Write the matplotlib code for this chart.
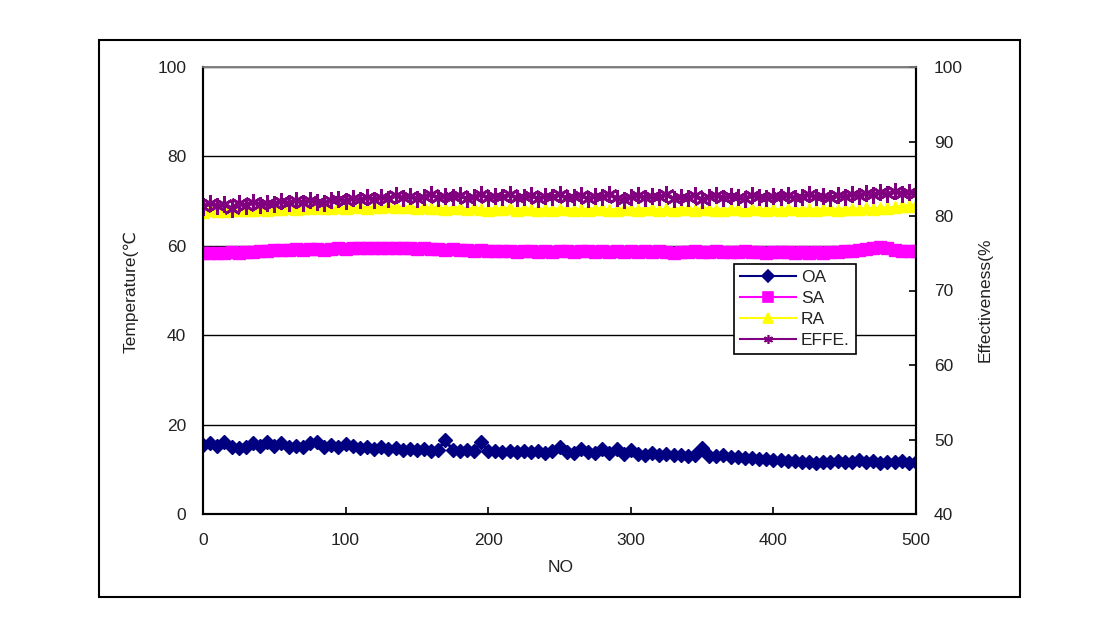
import numpy as np
import matplotlib
matplotlib.use("Agg")
import matplotlib.pyplot as plt
from matplotlib.patches import Rectangle

plt.rcParams['font.family'] = ['Liberation Sans', 'DejaVu Sans', 'Noto Sans CJK KR']

# sample number (every 5th record)
no = np.arange(0, 505, 5)

oa = [15.4, 15.9, 15.2, 16.0, 15.1, 14.8, 15.0, 15.8, 15.3, 16.1, 15.2,
      15.9, 14.9, 15.3, 15.0, 15.8, 16.0, 14.9, 15.4, 15.1, 15.7,
      15.2, 14.8, 15.0, 14.6, 14.9, 14.5, 14.7, 14.4, 14.6, 14.3,
      14.5, 14.2, 14.4, 16.6, 14.3, 14.1, 14.4, 14.0, 16.1, 14.2,
      14.0, 13.8, 14.1, 13.9, 14.2, 13.8, 14.0, 13.7, 14.1, 15.1,
      13.9, 13.7, 14.6, 13.8, 13.6, 14.5, 13.7, 14.6, 13.5, 14.4,
      13.5, 13.3, 13.6, 13.2, 13.4, 13.1, 13.3, 13.0, 13.2, 14.7,
      13.0, 12.9, 13.1, 12.7, 12.8, 12.5, 12.6, 12.3, 12.4, 12.1,
      12.0, 11.8, 11.9, 11.6, 11.7, 11.5, 11.7, 11.6, 11.8, 11.6,
      11.7, 12.0, 11.6, 11.8, 11.5, 11.7, 11.6, 11.8, 11.5, 11.7]

sa = [58.4, 58.3, 58.5, 58.4, 58.6, 58.5, 58.7, 58.6, 58.8, 58.9, 59.0,
      59.1, 59.0, 59.2, 59.1, 59.3, 59.2, 59.1, 59.3, 59.4, 59.3,
      59.5, 59.4, 59.6, 59.5, 59.4, 59.6, 59.5, 59.4, 59.5, 59.3,
      59.4, 59.2, 59.3, 59.1, 59.2, 59.0, 59.1, 58.9, 59.0, 58.8,
      58.9, 58.8, 58.9, 58.7, 58.8, 58.9, 58.7, 58.8, 58.7, 58.9,
      58.8, 58.7, 58.9, 58.8, 58.6, 58.8, 58.7, 58.9, 58.7, 58.8,
      58.7, 58.8, 58.6, 58.8, 58.7, 58.5, 58.7, 58.6, 58.8, 58.7,
      58.6, 58.8, 58.7, 58.6, 58.7, 58.8, 58.6, 58.7, 58.5, 58.7,
      58.6, 58.7, 58.5, 58.6, 58.4, 58.6, 58.5, 58.7, 58.6, 58.8,
      58.9, 59.1, 59.3, 59.6, 59.7, 59.5, 59.1, 58.9, 58.8, 58.9]

ra = [67.6, 67.9, 67.7, 67.8, 68.0, 67.9, 68.1, 68.0, 68.2, 68.1, 68.3,
      68.2, 68.4, 68.3, 68.5, 68.4, 68.6, 68.5, 68.4, 68.6, 68.5,
      68.7, 68.6, 68.5, 68.7, 68.6, 68.8, 68.7, 68.6, 68.7, 68.5,
      68.6, 68.4, 68.5, 68.3, 68.5, 68.4, 68.2, 68.4, 68.3, 68.1,
      68.3, 68.2, 68.4, 68.1, 68.3, 68.2, 68.0, 68.2, 68.1, 68.3,
      68.2, 68.0, 68.2, 68.1, 68.3, 68.2, 68.0, 68.1, 68.3, 68.2,
      68.1, 68.3, 68.2, 68.0, 68.2, 68.1, 68.3, 68.2, 68.1, 68.3,
      68.2, 68.0, 68.1, 68.3, 68.2, 68.1, 68.3, 68.2, 68.0, 68.2,
      68.1, 68.3, 68.2, 68.1, 68.2, 68.0, 68.2, 68.3, 68.1, 68.2,
      68.3, 68.2, 68.4, 68.3, 68.5, 68.4, 68.6, 68.8, 69.0, 69.2]

effe = [81.2, 81.8, 81.3, 81.6, 81.0, 81.7, 81.4, 81.9, 81.5, 81.8, 81.6,
        82.0, 81.7, 82.1, 81.8, 82.2, 81.9, 81.7, 82.1, 82.3, 82.0,
        82.4, 82.1, 82.5, 82.2, 82.6, 82.3, 82.8, 82.4, 82.7, 82.3,
        82.6, 82.9, 82.4, 82.7, 82.5, 82.8, 82.3, 82.6, 82.9, 82.4,
        82.7, 82.5, 82.9, 82.4, 82.6, 82.8, 82.3, 82.7, 82.5, 82.9,
        82.4, 82.6, 82.8, 82.3, 82.7, 82.5, 82.9, 82.4, 82.2, 82.6,
        82.8, 82.4, 82.7, 82.5, 82.9, 82.3, 82.6, 82.4, 82.8, 82.1,
        82.6, 82.8, 82.4, 82.7, 82.5, 82.3, 82.8, 82.6, 82.4, 82.7,
        82.5, 82.8, 82.4, 82.6, 82.9, 82.5, 82.7, 82.4, 82.8, 82.6,
        82.9, 82.7, 83.1, 82.8, 83.2, 82.9, 83.3, 83.0, 83.2, 83.0]

txt = '#222222'
fs = 12.5

fig = plt.figure(figsize=(11.14, 6.23), dpi=100)
ax = fig.add_axes([203/1114, 1-514/623, 713/1114, 447/623])
ax2 = ax.twinx()

l1, = ax.plot(no, oa, color='#000080', marker='D', markersize=7.5, lw=2.2, label='OA')
l2, = ax.plot(no, sa, color='#FF00FF', marker='s', markersize=8.5, lw=2.2, label='SA')
l3, = ax.plot(no, ra, color='#FFFF00', marker='^', markersize=9, lw=2.2, label='RA')
l4, = ax2.plot(no, effe, color='#800080', marker=(6, 2, 0), markersize=12,
               markeredgewidth=2.0, lw=3.0, label='EFFE.')

ax.set_xlim(0, 500)
ax.set_ylim(0, 100)
ax2.set_ylim(40, 100)
ax.set_xticks([0, 100, 200, 300, 400, 500])
ax.set_yticks([0, 20, 40, 60, 80, 100])
ax2.set_yticks([40, 50, 60, 70, 80, 90, 100])

ax.grid(axis='y', color='black', lw=1.0)
ax.set_axisbelow(True)

for a in (ax, ax2):
    for s in a.spines.values():
        s.set_linewidth(1.5)
        s.set_color('black')
    a.spines['top'].set_color('#808080')
    a.spines['top'].set_linewidth(1.2)

ax.tick_params(axis='y', length=0, pad=12, labelsize=fs, labelcolor=txt)
ax.tick_params(axis='x', direction='in', length=5, width=1.2, pad=14,
               labelsize=fs, labelcolor=txt)
ax2.tick_params(axis='y', direction='in', length=5, width=1.2, pad=13,
                labelsize=fs, labelcolor=txt)

fig.text(131/1114, 1-292/623, 'Temperature(℃', rotation=90, ha='center',
         va='center', fontsize=fs, color=txt)
fig.text(985/1114, 1-300/623, 'Effectiveness(%', rotation=90, ha='center',
         va='center', fontsize=fs, color=txt)
fig.text(561/1114, 1-567/623, 'NO', ha='center', va='center', fontsize=fs, color=txt)

leg = ax2.legend(handles=[l1, l2, l3, l4], loc='upper left',
                 bbox_to_anchor=(734/1114, 1-264/623), bbox_transform=fig.transFigure,
                 fontsize=fs, numpoints=1, handlelength=3.2, labelspacing=0.33,
                 fancybox=False, framealpha=1, borderpad=0.35, handletextpad=0.3,
                 borderaxespad=0)
leg.get_frame().set_edgecolor('black')
leg.get_frame().set_linewidth(1.2)
for t in leg.get_texts():
    t.set_color(txt)
for h in leg.legend_handles:
    h.set_linewidth(1.5)
    h.set_markersize(6.5)
    h.set_markeredgewidth(1.2)

fig.patches.append(Rectangle((99/1114, 1-597/623), 921/1114, 557/623,
                             transform=fig.transFigure, fill=False,
                             edgecolor='black', lw=1.5))

fig.savefig('out.png', dpi=100)
